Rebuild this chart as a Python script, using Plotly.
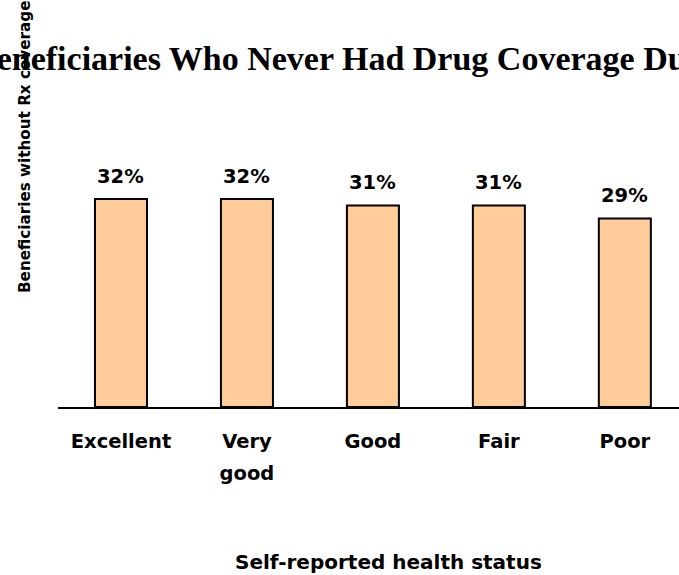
import plotly.graph_objects as go

# Share of beneficiaries without prescription drug coverage, by self-reported health
categories = ["Excellent", "Very good", "Good", "Fair", "Poor"]
tick_labels = ["Excellent", "Very<br>good", "Good", "Fair", "Poor"]
pct_without_rx = [32, 32, 31, 31, 29]

title_text = "Beneficiaries Who Never Had Drug Coverage During"
y_title = "Beneficiaries without Rx coverage"
x_title = "Self-reported health status"

W, H = 679, 575
M_L, M_R, M_T, M_B = 58, 0, 100, 168
plot_w = W - M_L - M_R
plot_h = H - M_T - M_B


def px_to_paper_x(px):
    return (px - M_L) / plot_w


def px_to_paper_y(py):
    return (H - M_B - py) / plot_h


SANS = "DejaVu Sans"
SERIF = "Liberation Serif"
tick_size = 19.5

fig = go.Figure()
fig.add_trace(go.Bar(
    x=categories,
    y=pct_without_rx,
    width=0.413,
    marker=dict(color="#FFCC99", line=dict(color="black", width=2)),
    hoverinfo="skip",
))

annotations = []
for cat, v in zip(categories, pct_without_rx):
    annotations.append(dict(
        x=cat, y=v, xref="x", yref="y",
        text=f"{v}%", showarrow=False,
        xanchor="center", yanchor="middle", yshift=23,
        font=dict(family=SANS, size=19.5, color="black", weight="bold"),
    ))

annotations.append(dict(
    x=px_to_paper_x(-28), y=px_to_paper_y(59), xref="paper", yref="paper",
    text=f"<b>{title_text}</b>", showarrow=False,
    xanchor="left", yanchor="middle",
    font=dict(family=SERIF, size=34, color="black"),
))
annotations.append(dict(
    x=px_to_paper_x(25), y=px_to_paper_y(147), xref="paper", yref="paper",
    text=f"<b>{y_title}</b>", showarrow=False, textangle=-90,
    xanchor="center", yanchor="middle",
    font=dict(family=SANS, size=15.2, color="black"),
))
annotations.append(dict(
    x=px_to_paper_x(233), y=px_to_paper_y(562), xref="paper", yref="paper",
    text=f"<b>{x_title}</b>", showarrow=False,
    xanchor="left", yanchor="middle",
    font=dict(family=SANS, size=20, color="black"),
))

span = f"<span style='font-size:{tick_size}px'>"
ticktext = ["<br>".join(span + part + "</span>" for part in t.split("<br>")) for t in tick_labels]

fig.update_layout(
    width=W, height=H,
    margin=dict(l=M_L, r=M_R, t=M_T, b=M_B, pad=0),
    paper_bgcolor="white", plot_bgcolor="white",
    showlegend=False,
    annotations=annotations,
    xaxis=dict(
        type="category",
        range=[-0.5, 4.43],
        tickmode="array", tickvals=categories, ticktext=ticktext,
        tickfont=dict(family=SANS, size=24.6, color="black", weight="bold"),
        ticks="", showgrid=False, zeroline=False,
        showline=True, linecolor="black", linewidth=2,
        ticklabelstandoff=9,
        fixedrange=True,
    ),
    yaxis=dict(
        range=[0, 47.23],
        showticklabels=False, ticks="", showgrid=False, zeroline=False,
        showline=False, fixedrange=True,
    ),
)

fig.write_html("out.html", config={"displayModeBar": False})
